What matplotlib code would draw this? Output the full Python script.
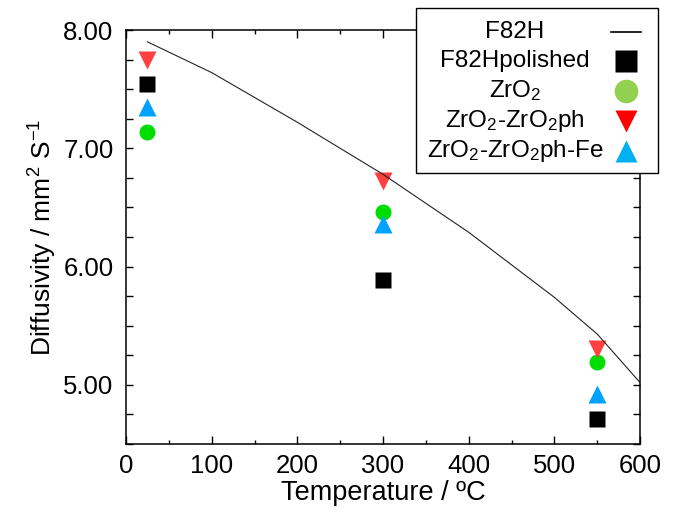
import matplotlib
matplotlib.use("Agg")
import matplotlib.pyplot as plt
from matplotlib.lines import Line2D
from matplotlib.patches import Rectangle
from matplotlib.ticker import MultipleLocator, FormatStrFormatter

plt.rcParams['font.family'] = ['Liberation Sans', 'DejaVu Sans']
plt.rcParams['mathtext.fontset'] = 'custom'
plt.rcParams['mathtext.rm'] = 'Liberation Sans'
plt.rcParams['mathtext.it'] = 'Liberation Sans:italic'
plt.rcParams['mathtext.bf'] = 'Liberation Sans:bold'

# F82H reference curve
line_temps = [25, 100, 200, 300, 400, 500, 550, 600]
line_diff = [7.90, 7.64, 7.22, 6.78, 6.29, 5.74, 5.43, 5.02]

# measured points
pt_temps = [25, 300, 550]
polished = [7.54, 5.89, 4.71]
zro2 = [7.14, 6.46, 5.19]
zro2_ph = [7.75, 6.72, 5.30]
zro2_ph_fe = [7.345, 6.36, 4.92]

labels = ['F82H', 'F82Hpolished', 'ZrO$_2$', 'ZrO$_2$-ZrO$_2$ph', 'ZrO$_2$-ZrO$_2$ph-Fe']

W, H = 682, 511
fig = plt.figure(figsize=(W / 100, H / 100), dpi=100)
ax = fig.add_axes([126 / W, 1 - 444 / H, (640 - 126) / W, (444 - 30) / H])

ax.plot(pt_temps, polished, ls='none', marker='s', ms=11.3, color='black', mec='none', zorder=3)
ax.plot(pt_temps, zro2, ls='none', marker='o', ms=11.5, color='#00DD00', mec='none', zorder=3)
ax.plot(pt_temps, zro2_ph_fe, ls='none', marker='^', ms=13.5, color='#00A2FF', mec='none', zorder=4)
ax.plot(pt_temps, zro2_ph, ls='none', marker='v', ms=13.5, color='#FF4040', mec='none', zorder=5)
ax.plot(line_temps, line_diff, color='#222222', lw=0.8, zorder=6)

ax.set_xlim(0, 600)
ax.set_ylim(4.5, 8.0)
ax.xaxis.set_major_locator(MultipleLocator(100))
ax.xaxis.set_minor_locator(MultipleLocator(50))
ax.yaxis.set_major_locator(MultipleLocator(1.0))
ax.yaxis.set_minor_locator(MultipleLocator(0.25))
ax.yaxis.set_major_formatter(FormatStrFormatter('%.2f'))

ax.tick_params(which='both', direction='in', top=True, right=True, width=1.0)
ax.tick_params(axis='x', which='major', length=6, labelsize=18.5, pad=7)
ax.tick_params(axis='x', which='minor', length=3)
ax.tick_params(axis='y', which='both', length=5, labelsize=18.5, pad=9)
for s in ax.spines.values():
    s.set_linewidth(1.1)

ax.set_xlabel('Temperature / ºC', fontsize=19.5, labelpad=2)
ax.set_ylabel('Diffusivity / mm$^{2}$ S$^{-1}$', fontsize=19, labelpad=3)

# legend box (figure pixel coordinates -> fractions)
def fx(px):
    return px / W

def fy(py):
    return 1 - py / H

fig.patches.append(Rectangle((fx(416), fy(173)), fx(658) - fx(416), fy(8) - fy(173),
                             transform=fig.transFigure, fill=True, facecolor='white',
                             edgecolor='black', lw=1.0, zorder=10))
rows = [32, 61, 91, 121, 151]
text_x = 515
mark_x = 626
for lab, ry in zip(labels, rows):
    fig.text(fx(text_x), fy(ry), lab, ha='center', va='center', fontsize=17.5, zorder=11)
fig.lines.append(Line2D([fx(611), fx(641)], [fy(rows[0]), fy(rows[0])], transform=fig.transFigure,
                        color='black', lw=1.2, zorder=11))
leg_marks = [('s', 'black', 15.5), ('o', '#92D050', 17), ('v', '#FF0000', 16.5), ('^', '#00B0F0', 16.5)]
for (m, c, ms), ry in zip(leg_marks, rows[1:]):
    fig.lines.append(Line2D([fx(mark_x)], [fy(ry)], transform=fig.transFigure, ls='none',
                            marker=m, color=c, ms=ms, mec='none', zorder=11))

fig.savefig('out.png', dpi=100)
